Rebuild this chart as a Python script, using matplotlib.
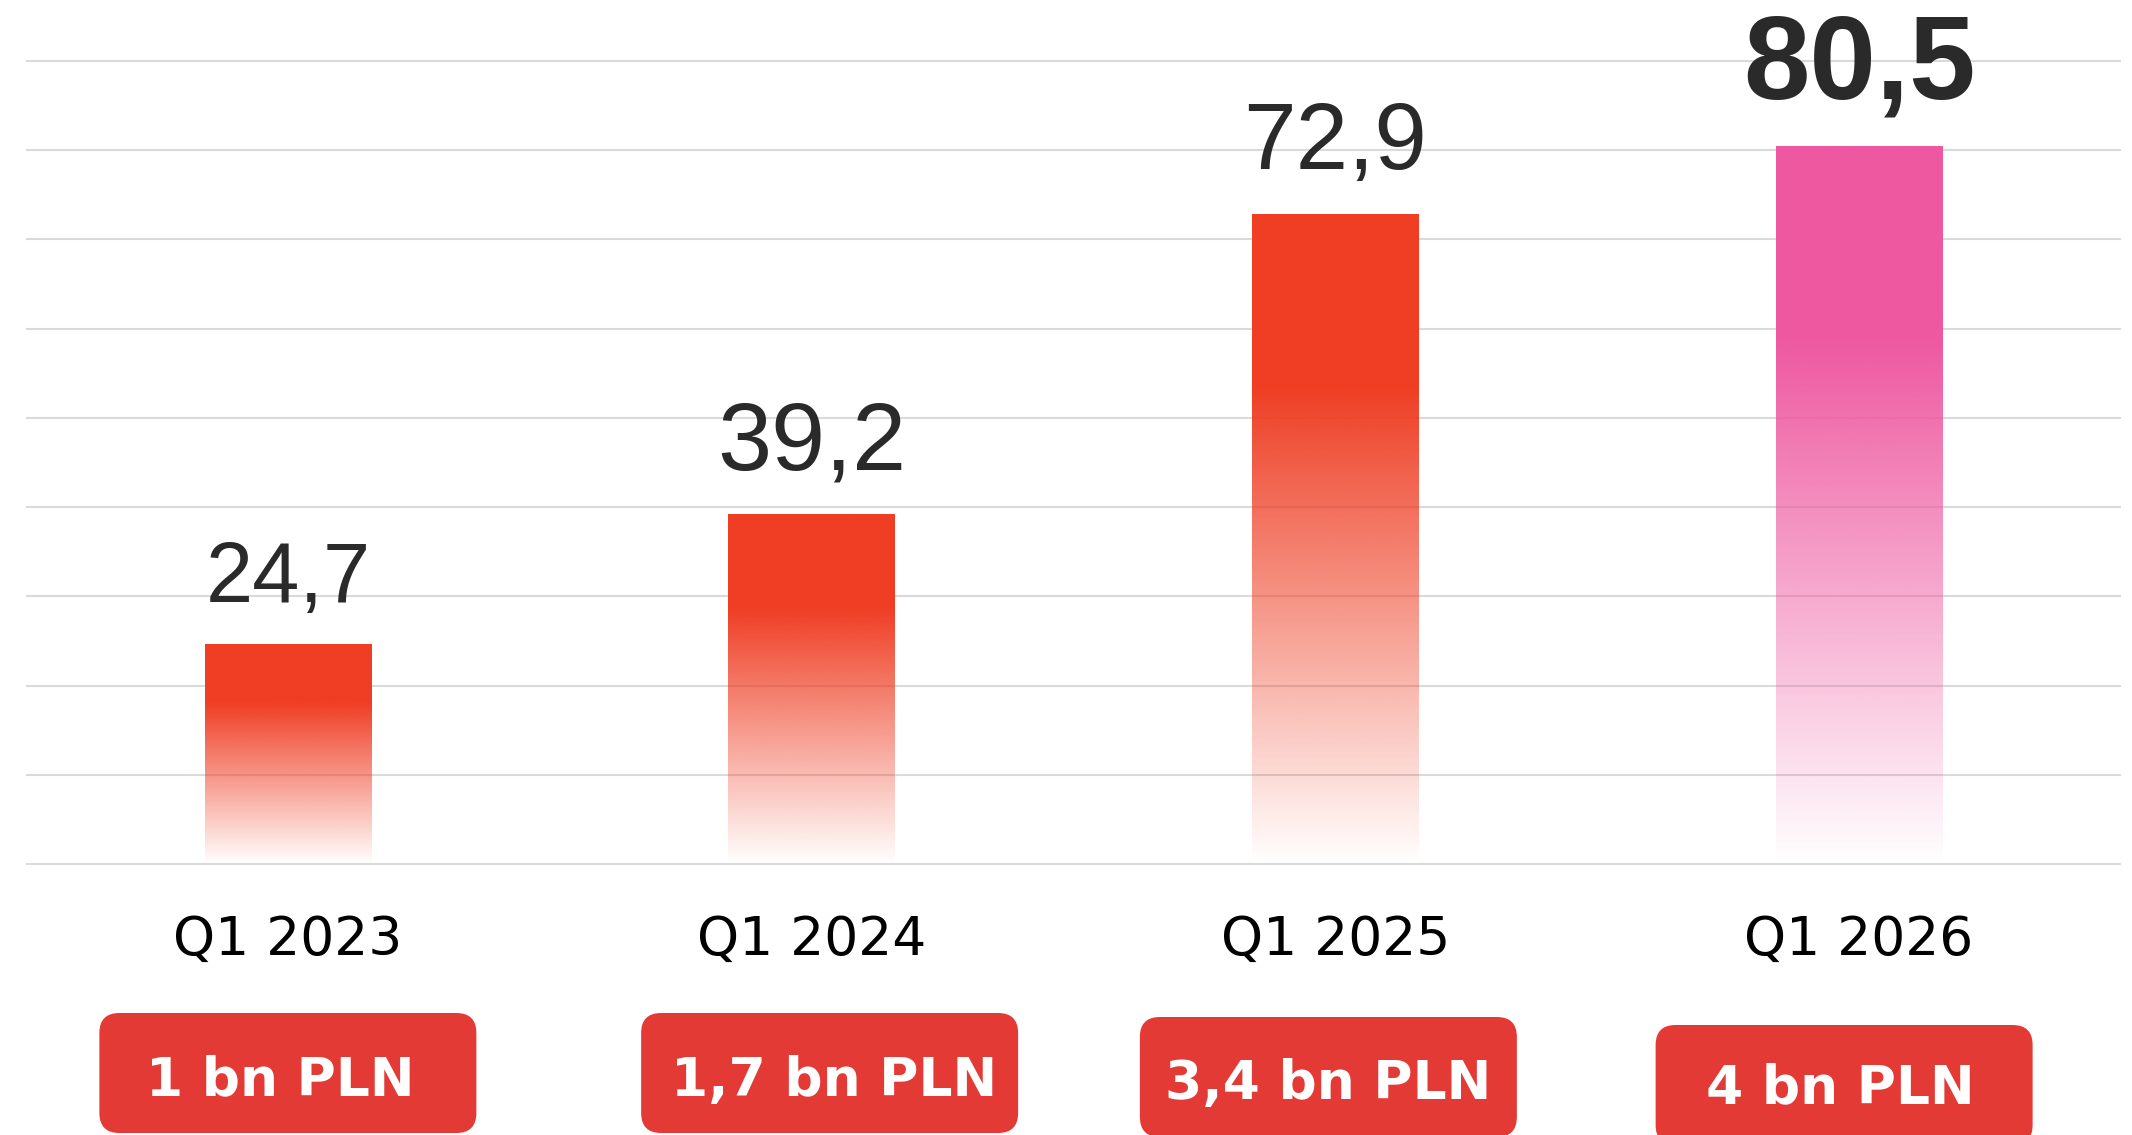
import numpy as np
import matplotlib
matplotlib.use("Agg")
import matplotlib.pyplot as plt
from matplotlib.patches import FancyBboxPatch
from matplotlib.colors import to_rgb
from matplotlib.transforms import Affine2D

# ---- data ----
categories = ["Q1 2023", "Q1 2024", "Q1 2025", "Q1 2026"]
values = [24.7, 39.2, 72.9, 80.5]
badge_texts = ["1 bn PLN", "1,7 bn PLN", "3,4 bn PLN", "4 bn PLN"]

# ---- styling ----
W, H = 2132, 1135
bar_colors = ["#ef3e24", "#ef3e24", "#ef3e24", "#ee58a0"]
label_sizes = [61, 70, 68, 86]
label_weights = ["normal", "normal", "normal", "bold"]
label_gaps = [30, 32, 32, 34]          # points between bar top and label baseline
badge_color = "#e43a36"
badge_dx = [0, 18, -7, -15]            # px shift of each badge from its bar centre
badge_text_dx = [-8, 4, 0, -4]         # px shift of the badge text inside its box
badge_text_dy = [82, 83, 82, 78]       # px from badge top to text baseline
badge_top = [1013, 1013, 1017, 1025]   # px from the top edge of the figure
badge_w, badge_h, badge_r = 377, 120, 20

fig = plt.figure(figsize=(W / 100, H / 100), dpi=100)
fig.patch.set_facecolor("white")

# pixel coordinates measured from the top-left corner of the figure
px = Affine2D().scale(1 / W, -1 / H).translate(0, 1) + fig.transFigure

ymin, ymax = -1, 91
unit = (864 - 61) / 90.0
ax_left, ax_right = 26, 2121
ax_bottom = 864 + unit * (0 - ymin)
ax_top = 61 - unit * (ymax - 90)
ax = fig.add_axes([ax_left / W, (H - ax_bottom) / H,
                   (ax_right - ax_left) / W, (ax_bottom - ax_top) / H])

x = np.arange(len(categories))
bars = ax.bar(x, values, width=0.318, color="none", edgecolor="none", zorder=2)

# vertical gradient: solid in the upper part, fading to transparent at the base
n = 600
t = np.linspace(0, 1, n)
alpha = np.clip(1 - (t - 0.27) / 0.73, 0, 1)
for patch, col in zip(bars.patches, bar_colors):
    rgb = to_rgb(col)
    img = np.zeros((n, 1, 4))
    img[..., 0], img[..., 1], img[..., 2] = rgb
    img[:, 0, 3] = alpha
    x0 = patch.get_x()
    x1 = x0 + patch.get_width()
    h = patch.get_height()
    im = ax.imshow(img, extent=(x0, x1, 0, h), origin="upper", aspect="auto",
                   interpolation="bilinear", zorder=2)
    im.set_clip_path(patch)

# value labels above the bars
for xi, v, fs, fw, gap in zip(x, values, label_sizes, label_weights, label_gaps):
    ax.annotate(f"{v:.1f}".replace(".", ","), xy=(xi, v), xytext=(0, gap),
                textcoords="offset points", ha="center", va="baseline",
                fontsize=fs, fontweight=fw, color="#2a2a2a",
                family="Liberation Sans", annotation_clip=False)

ax.set_xlim(-0.5, 3.5)
ax.set_ylim(ymin, ymax)
ax.set_yticks(np.arange(0, 91, 10))
ax.yaxis.grid(True, color="#dadada", linewidth=1.5, zorder=0)
ax.set_axisbelow(True)
ax.tick_params(axis="y", left=False, labelleft=False)
for s in ax.spines.values():
    s.set_visible(False)
ax.set_facecolor("none")

ax.set_xticks(x, labels=categories)
ax.tick_params(axis="x", length=0, pad=59, labelsize=38.5, labelcolor="black")
for lab in ax.get_xticklabels():
    lab.set_family("DejaVu Sans")
    lab.set_verticalalignment("baseline")

# rounded badges under the category labels
bar_px = [ax.transData.transform((xi, 0))[0] for xi in x]
for bx, dx, tdx, tdy, top, txt in zip(bar_px, badge_dx, badge_text_dx,
                                      badge_text_dy, badge_top, badge_texts):
    cx = bx + dx
    box = FancyBboxPatch((cx - badge_w / 2 + badge_r, top + badge_r),
                         badge_w - 2 * badge_r, badge_h - 2 * badge_r,
                         boxstyle=f"round,pad={badge_r}",
                         transform=px, facecolor=badge_color,
                         edgecolor="none", clip_on=False)
    fig.patches.append(box)
    fig.text(cx + tdx, top + tdy, txt, transform=px, ha="center", va="baseline",
             fontsize=38.5, fontweight="bold", color="white", family="DejaVu Sans")

fig.savefig("out.png", dpi=100, facecolor="white")
